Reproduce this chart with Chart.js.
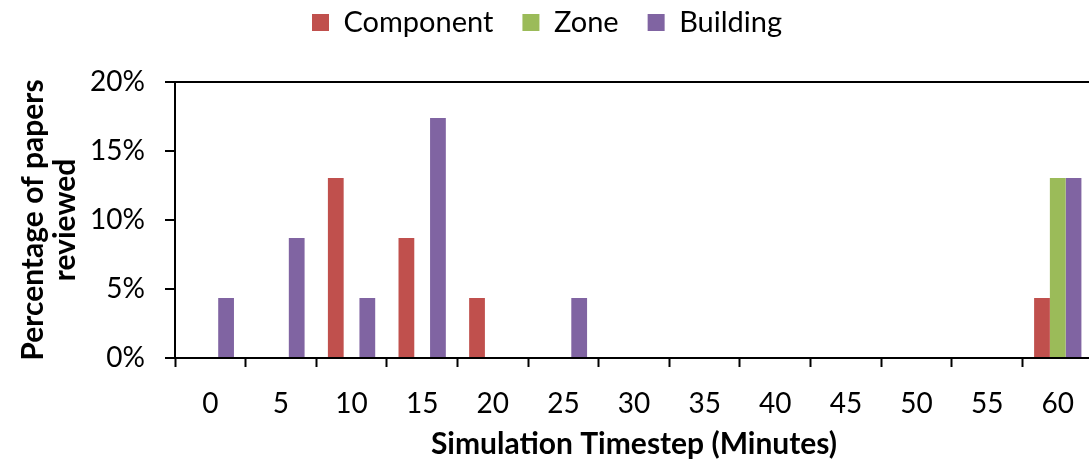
<!DOCTYPE html>
<html>
<head>
<meta charset="utf-8">
<script src="https://cdn.jsdelivr.net/npm/chart.js@4"></script>
<style>
  html, body { margin: 0; padding: 0; background: #fff; overflow: hidden; }
  #wrap { width: 1089px; height: 463px; overflow: hidden; }
</style>
</head>
<body>
<div id="wrap">
  <canvas id="chart" width="1094" height="463"></canvas>
</div>
<script>
// Simulation timestep (minutes) on the x axis
const categories = ["0", "5", "10", "15", "20", "25", "30", "35", "40", "45", "50", "55", "60"];

// Percentage of papers reviewed (out of 23 papers)
const componentValues = [0, 0, 13.04, 8.70, 4.35, 0, 0, 0, 0, 0, 0, 0, 4.35];
const zoneValues = [0, 0, 0, 0, 0, 0, 0, 0, 0, 0, 0, 0, 13.04];
const buildingValues = [4.35, 8.70, 4.35, 17.39, 0, 4.35, 0, 0, 0, 0, 0, 0, 13.04];

const yTicks = [0, 5, 10, 15, 20];

const FONT = "Lato, 'Open Sans', sans-serif";

// push the plot area down below the legend
const legendGap = {
  id: "legendGap",
  beforeInit(chart) {
    const fit = chart.legend.fit;
    chart.legend.fit = function () {
      fit.bind(chart.legend)();
      this.height += 35;
    };
  },
};

const ctx = document.getElementById("chart").getContext("2d");

new Chart(ctx, {
  type: "bar",
  data: {
    labels: categories,
    datasets: [
      {
        label: "Component",
        data: componentValues,
        backgroundColor: "#C0504D",
        borderWidth: 0,
        barPercentage: 1,
        categoryPercentage: 0.67,
      },
      {
        label: "Zone",
        data: zoneValues,
        backgroundColor: "#9BBB59",
        borderWidth: 0,
        barPercentage: 1,
        categoryPercentage: 0.67,
      },
      {
        label: "Building",
        data: buildingValues,
        backgroundColor: "#8064A2",
        borderWidth: 0,
        barPercentage: 1,
        categoryPercentage: 0.67,
      },
    ],
  },
  options: {
    responsive: false,
    animation: false,
    layout: {
      padding: { left: 0, right: 0, top: -21, bottom: 0 },
    },
    scales: {
      x: {
        offset: true,
        grid: {
          offset: true,
          drawOnChartArea: false,
          tickColor: "#000",
          tickLength: 9,
          tickWidth: 2,
        },
        border: { color: "#000", width: 2 },
        ticks: {
          color: "#000",
          padding: 20,
          maxRotation: 0,
          autoSkip: false,
          font: { family: FONT, size: 28, lineHeight: 1.2 },
        },
        title: {
          display: true,
          text: "Simulation Timestep (Minutes)",
          color: "#000",
          padding: { top: 0, bottom: 1 },
          font: { family: FONT, size: 30, weight: "bold", lineHeight: 1.2 },
        },
        afterFit(scale) {
          scale.height = 105; // axis line at y = 358
        },
      },
      y: {
        min: 0,
        max: 20,
        afterBuildTicks(scale) {
          scale.ticks = yTicks.map((v) => ({ value: v }));
        },
        grid: {
          color: (c) => (c.tick && c.tick.value === 20 ? "#000" : "rgba(0,0,0,0)"),
          lineWidth: 2,
          tickColor: "#000",
          tickLength: 10,
          tickWidth: 2,
        },
        border: { color: "#000", width: 2 },
        ticks: {
          color: "#000",
          padding: 20,
          font: { family: FONT, size: 28, lineHeight: 1.2 },
          callback: (v) => v + "%",
        },
        title: {
          display: true,
          text: ["Percentage of papers", "reviewed"],
          color: "#000",
          padding: { top: 17, bottom: 0 },
          font: { family: FONT, size: 30, weight: "bold", lineHeight: 1.07 },
        },
        afterFit(scale) {
          scale.width = 175; // axis line at x = 175
        },
      },
    },
    plugins: {
      legend: {
        position: "top",
        labels: {
          color: "#000",
          boxWidth: 17,
          boxHeight: 17,
          padding: 29,
          font: { family: FONT, size: 29 },
        },
      },
      tooltip: { enabled: false },
    },
  },
  plugins: [legendGap],
});
</script>
</body>
</html>
